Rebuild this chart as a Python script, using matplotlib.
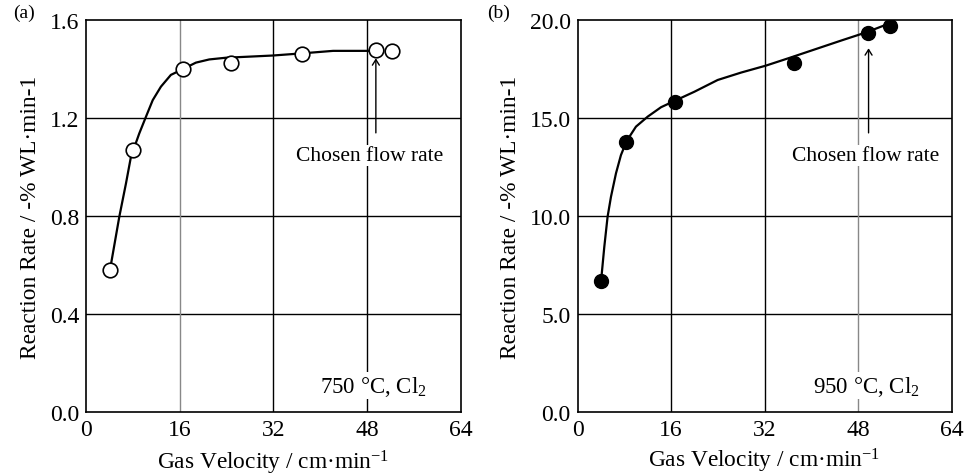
import numpy as np
import matplotlib
matplotlib.use("Agg")
import matplotlib.pyplot as plt

plt.rcParams['font.family'] = ['Liberation Serif', 'DejaVu Serif']
plt.rcParams['mathtext.fontset'] = 'custom'
plt.rcParams['mathtext.rm'] = 'Liberation Serif'
plt.rcParams['mathtext.it'] = 'Liberation Serif:italic'

# ---- datos panel (a): 750 °C ----
x_a = [4.1, 8.1, 16.6, 24.7, 36.9, 49.5, 52.3]
y_a = [0.58, 1.07, 1.40, 1.424, 1.461, 1.479, 1.472]
# curva ajustada
cx_a = [4.1, 5.69, 6.83, 7.68, 8.1, 9.1, 10.24, 11.4, 12.8, 14.5, 16.5,
        18.77, 21.05, 23.9, 27.5, 31.9, 37.0, 42.2, 48.5]
cy_a = [0.58, 0.797, 0.933, 1.042, 1.07, 1.137, 1.205, 1.273, 1.328, 1.376, 1.399,
        1.426, 1.439, 1.446, 1.450, 1.455, 1.464, 1.474, 1.474]

# ---- datos panel (b): 950 °C ----
x_b = [4.0, 8.27, 16.66, 36.99, 49.66, 53.5]
y_b = [6.67, 13.79, 15.83, 17.79, 19.34, 19.71]
cx_b = [4.0, 4.56, 5.12, 5.7, 6.56, 7.41, 8.39, 9.98, 11.99, 14.27, 16.56,
        19.98, 23.97, 28.0, 32.2, 36.5, 40.8, 45.1, 49.4, 53.6]
cy_b = [6.67, 8.43, 9.96, 10.98, 12.18, 13.11, 13.83, 14.56, 15.07, 15.55, 15.87,
        16.34, 16.94, 17.32, 17.67, 18.09, 18.52, 18.95, 19.37, 19.85]

xticks = [0, 16, 32, 48, 64]
yticks_a = [0.0, 0.4, 0.8, 1.2, 1.6]
yticks_b = [0.0, 5.0, 10.0, 15.0, 20.0]

FS_TICK = 17
FS_LAB = 16.8
FS_TXT = 15.5

fig = plt.figure(figsize=(9.66, 4.77), dpi=100)
ax1 = fig.add_axes([0.089, 0.134, 0.388, 0.822])
ax2 = fig.add_axes([0.598, 0.134, 0.387, 0.822])


def panel(ax, yticks, vgrid_colors, xpad):
    ax.set_xlim(0, 64)
    ax.set_ylim(yticks[0], yticks[-1])
    ax.set_xticks(xticks)
    ax.set_yticks(yticks)
    ax.set_yticklabels([f"{v:.1f}" for v in yticks])
    ax.tick_params(length=0, labelsize=FS_TICK, pad=5)
    for yv in yticks[1:-1]:
        ax.axhline(yv, color='black', lw=1.0, zorder=1)
    for xv, c in zip(xticks[1:-1], vgrid_colors):
        ax.axvline(xv, color=c, lw=1.0, zorder=1)
    for s in ax.spines.values():
        s.set_linewidth(1.2)
    ax.set_xlabel(r"Gas Velocity / cm·min$^{\mathrm{-1}}$", fontsize=FS_LAB, labelpad=xpad)
    ax.set_ylabel("Reaction Rate / -% WL·min-1", fontsize=FS_LAB, labelpad=6)


# panel (a)
panel(ax1, yticks_a, ['#888888', 'black', 'black'], 5.5)
ax1.plot(cx_a, cy_a, color='black', lw=1.6, zorder=3, solid_joinstyle='round')
ax1.plot(x_a, y_a, 'o', ms=10.5, mfc='white', mec='black', mew=1.2, zorder=4)
ax1.annotate('', xy=(49.5, 1.455), xytext=(49.5, 1.128),
             arrowprops=dict(arrowstyle='->,head_length=0.4,head_width=0.25', color='black', lw=1.0),
             zorder=5)
ax1.text(48.5, 1.047, "Chosen flow rate", fontsize=FS_TXT, ha='center', va='center',
         bbox=dict(facecolor='white', edgecolor='none', pad=1), zorder=5)
ax1.text(49, 0.107, r"750 °C, Cl$_{\mathrm{2}}$", fontsize=16.5, ha='center', va='center',
         bbox=dict(facecolor='white', edgecolor='none', pad=1), zorder=5)
fig.text(0.025, 0.971, "(a)", fontsize=14, ha='center', va='center')

# panel (b)
panel(ax2, yticks_b, ['black', 'black', '#888888'], 4)
ax2.plot(cx_b, cy_b, color='black', lw=1.6, zorder=3, solid_joinstyle='round')
ax2.plot(x_b, y_b, 'o', ms=10, mfc='black', mec='black', zorder=4)
ax2.annotate('', xy=(49.8, 18.7), xytext=(49.8, 14.1),
             arrowprops=dict(arrowstyle='->,head_length=0.4,head_width=0.25', color='black', lw=1.0),
             zorder=5)
ax2.text(49.3, 13.08, "Chosen flow rate", fontsize=FS_TXT, ha='center', va='center',
         bbox=dict(facecolor='white', edgecolor='none', pad=1), zorder=5)
ax2.text(49.4, 1.34, r"950 °C, Cl$_{\mathrm{2}}$", fontsize=16.5, ha='center', va='center',
         bbox=dict(facecolor='white', edgecolor='none', pad=1), zorder=5)
fig.text(0.516, 0.971, "(b)", fontsize=14, ha='center', va='center')

fig.savefig("out.png", dpi=100)
